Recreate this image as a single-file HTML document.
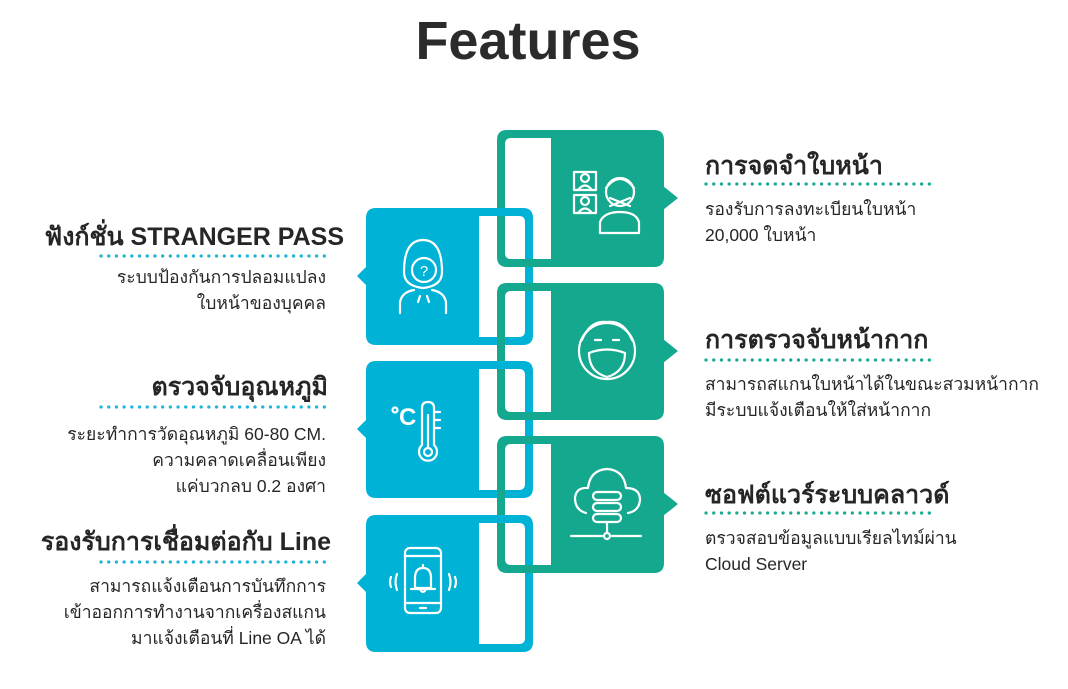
<!DOCTYPE html>
<html><head><meta charset="utf-8"><style>
body{margin:0;background:#fff;width:1068px;height:689px;overflow:hidden;position:relative;font-family:"Liberation Sans","DejaVu Sans",sans-serif;color:#262626}
.t{position:absolute;white-space:nowrap}
.h{font-weight:bold;font-size:25px}
.d{font-size:17.5px;line-height:26px}
.r{text-align:right}
</style></head><body>
<svg width="1068" height="689" style="position:absolute;left:0;top:0">
<defs>
<g id="blue">
<path fill-rule="evenodd" fill="#00b2d6" d="M376 0 H523 Q533 0 533 10 V127 Q533 137 523 137 H376 Q366 137 366 127 V10 Q366 0 376 0 Z M479 8 H519 Q525 8 525 14 V123 Q525 129 519 129 H479 Z"/>
<path fill="#00b2d6" d="M367 58 L357 68 L367 78 Z"/>
</g>
<g id="teal">
<path fill-rule="evenodd" fill="#14a98f" d="M507 0 H654 Q664 0 664 10 V127 Q664 137 654 137 H507 Q497 137 497 127 V10 Q497 0 507 0 Z M511 8 H551 V129 H511 Q505 129 505 123 V14 Q505 8 511 8 Z"/>
<path fill="#14a98f" d="M663 56 L678 68 L663 80 Z"/>
</g>
</defs>
<use href="#blue" y="208"/><use href="#blue" y="361"/><use href="#blue" y="515"/>
<use href="#teal" y="130"/><use href="#teal" y="283"/><use href="#teal" y="436"/>
<rect x="497" y="208" width="8" height="8" fill="#00b2d6"/>
<rect x="497" y="361" width="8" height="8" fill="#00b2d6"/>
<rect x="497" y="515" width="8" height="8" fill="#00b2d6"/>
<g fill="none" stroke="#fff" stroke-width="2.2" stroke-linecap="round" stroke-linejoin="round">
<path d="M404 272 Q404 240 423 240 Q442 240 442 272 Q442 286 423 288 Q404 286 404 272 Z"/>
<circle cx="424" cy="270" r="12"/>
<path d="M400 313 V302 Q402 292 414 290 M446 313 V302 Q444 292 432 290 M420 296 L418 302 M427 296 L429 302"/>
<path d="M422 408 V445 A9 9 0 1 0 434 445 V408 Q434 402 428 402 Q422 402 422 408 Z"/>
<circle cx="428" cy="452" r="4"/><path d="M428 415 V447 M435 412 H440 M435 420 H440 M435 428 H440"/>
<circle cx="395" cy="410" r="2.5"/>
<rect x="405" y="548" width="36" height="65" rx="5"/>
<path d="M405 556 H441 M405 603 H441 M420 608 H426 M415 588 V578 Q415 568 423 568 Q431 568 431 578 V588 Z M411 589 H435 M423 565 V567 M420 589 Q423 595 426 589"/>
<path d="M397 574 Q394 582 397 590 M391 577 Q389 582 391 587 M449 574 Q452 582 449 590 M455 577 Q457 582 455 587"/>
<rect x="574" y="172" width="22" height="18"/><circle cx="585" cy="178" r="4"/><path d="M578 190 Q585 181 592 190"/>
<rect x="574" y="195" width="22" height="18"/><circle cx="585" cy="201" r="4"/><path d="M578 213 Q585 204 592 213"/>
<circle cx="620" cy="192" r="14"/><path d="M606 188 Q620 170 634 188 M610 198 L630 206 M630 198 L610 206 M600 233 V222 Q604 212 620 212 Q636 212 639 222 V233 Z"/>
<circle cx="607" cy="351" r="28"/><path d="M582 340 Q590 320 607 322 Q624 320 632 340 M589 353 Q607 346 625 353 Q625 372 607 377 Q589 372 589 353 Z M595 340 H601 M613 340 H619"/>
<path d="M586 513 Q575 510 575 498 Q576 487 588 488 Q590 470 607 469 Q624 470 626 488 Q640 488 640 500 Q639 511 628 513"/>
<rect x="593" y="492" width="28" height="8" rx="4"/><rect x="593" y="503" width="28" height="8" rx="4"/><rect x="593" y="514" width="28" height="8" rx="4"/>
<path d="M607 522 V532 M571 536 H602 M612 536 H641"/><circle cx="607" cy="536" r="3"/>
</g>
<text x="399" y="425" fill="#fff" font-family="Liberation Sans" font-weight="bold" font-size="24">C</text>
<text x="424" y="276" fill="#fff" font-family="Liberation Sans" font-size="15" text-anchor="middle">?</text>
<g stroke-dasharray="0.1 7.6" stroke-linecap="round" stroke-width="3.2">
<path d="M101 256 H328" stroke="#1db4d6"/>
<path d="M101 407 H328" stroke="#1db4d6"/>
<path d="M101 562 H328" stroke="#1db4d6"/>
<path d="M706 184 H930" stroke="#1aaa94"/>
<path d="M706 360 H930" stroke="#1aaa94"/>
<path d="M706 513 H930" stroke="#1aaa94"/>
</g>
</svg>
<div class="t" style="width:1068px;text-align:center;top:10px;font-size:54px;font-weight:bold;color:#2b2b2b;left:-6px">Features</div>

<div class="t h r" style="right:724px;top:217px">ฟังก์ชั่น STRANGER PASS</div>
<div class="t d r" style="right:742px;top:264px">ระบบป้องกันการปลอมแปลง<br>ใบหน้าของบุคคล</div>
<div class="t h r" style="right:740px;top:367px">ตรวจจับอุณหภูมิ</div>
<div class="t d r" style="right:742px;top:421px">ระยะทำการวัดอุณหภูมิ 60-80 CM.<br>ความคลาดเคลื่อนเพียง<br>แค่บวกลบ 0.2 องศา</div>
<div class="t h r" style="right:737px;top:522px">รองรับการเชื่อมต่อกับ Line</div>
<div class="t d r" style="right:742px;top:573px">สามารถแจ้งเตือนการบันทึกการ<br>เข้าออกการทำงานจากเครื่องสแกน<br>มาแจ้งเตือนที่ Line OA ได้</div>

<div class="t h" style="left:705px;top:146px">การจดจำใบหน้า</div>
<div class="t d" style="left:705px;top:196px">รองรับการลงทะเบียนใบหน้า<br>20,000 ใบหน้า</div>
<div class="t h" style="left:705px;top:320px">การตรวจจับหน้ากาก</div>
<div class="t d" style="left:705px;top:371px">สามารถสแกนใบหน้าได้ในขณะสวมหน้ากาก<br>มีระบบแจ้งเตือนให้ใส่หน้ากาก</div>
<div class="t h" style="left:705px;top:475px">ซอฟต์แวร์ระบบคลาวด์</div>
<div class="t d" style="left:705px;top:525px">ตรวจสอบข้อมูลแบบเรียลไทม์ผ่าน<br>Cloud Server</div>
</body></html>
